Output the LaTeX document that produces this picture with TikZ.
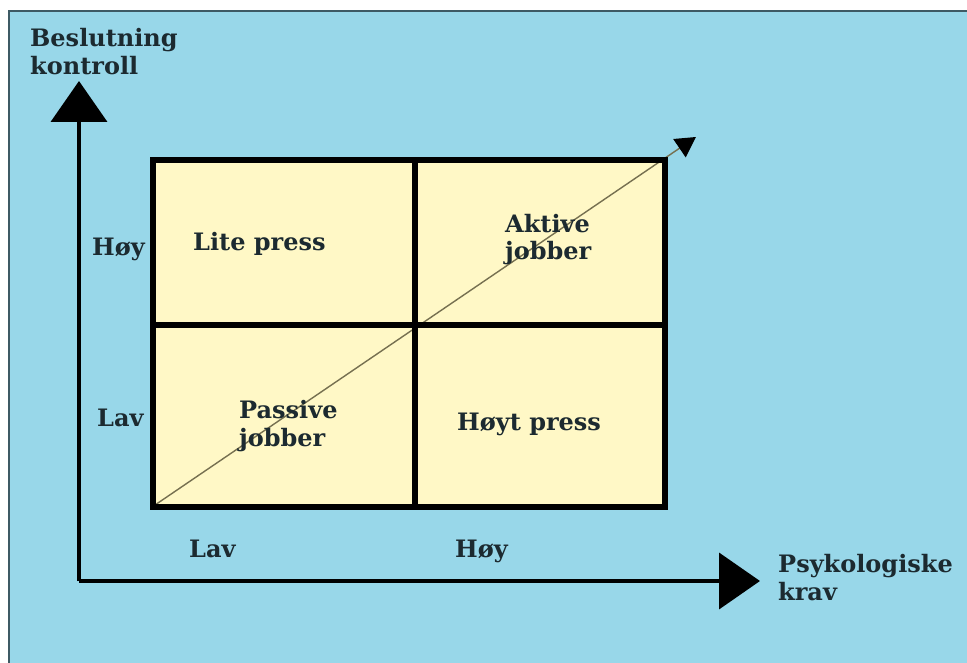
\documentclass[tikz,border=0pt]{standalone}
\usepackage{fontspec}
\setmainfont{DejaVu Serif}
\usetikzlibrary{arrows.meta}

\definecolor{panelblue}{HTML}{98D7E9}
\definecolor{panelrim}{HTML}{3E5A64}
\definecolor{cellyellow}{HTML}{FFF8C6}
\definecolor{inkdark}{HTML}{1C2A30}
\definecolor{diagline}{HTML}{767050}

\begin{document}
\begin{tikzpicture}[x=1pt,y=-1pt,
  lbl/.style={font=\bfseries\fontsize{24}{28}\selectfont, text=inkdark,
    inner sep=0pt, align=left, anchor=base west},
  axisline/.style={line width=4pt, black,
    -{Triangle[width=56pt,length=41pt]}},
  gridline/.style={line width=6pt, black},
]
\useasboundingbox (0,0) rectangle (967,663);
\fill[white] (0,0) rectangle (967,663);
\draw[fill=panelblue, draw=panelrim, line width=2pt] (9,11) rectangle (980,680);

% four quadrants of the model
\fill[cellyellow] (153,160) rectangle (665,507);

% named points of the frame
\coordinate (origin) at (79,581);
\coordinate (ytip) at (79,81);
\coordinate (xtip) at (760,581);
\coordinate (dstart) at (155,505);
\coordinate (dend) at (696,137);

% diagonal from passive to active
\draw[line width=1.4pt, diagline, -{Triangle[width=22pt,length=20pt,fill=black,color=black]}]
  (dstart) -- (dend);

% grid
\draw[gridline] (153,160) rectangle (665,507);
\draw[gridline] (415,160) -- (415,507);
\draw[gridline] (153,325) -- (665,325);

% axes
\draw[axisline] (origin) -- (ytip);
\draw[axisline] (origin) -- (xtip);

% axis titles (base anchor sits on the last line)
\node[lbl] (ytitle) at (30,75) {Beslutning\\kontroll};
\node[lbl] (xtitle) at (778,600) {Psykologiske\\krav};

% scale labels
\node[lbl] (yhigh) at (92,256) {Høy};
\node[lbl] (ylow) at (97,426) {Lav};
\node[lbl] (xlow) at (189,557) {Lav};
\node[lbl] (xhigh) at (455,557) {Høy};

% quadrant labels
\node[lbl] (q1) at (193,251) {Lite press};
\node[lbl] (q2) at (505,260) {Aktive\\jobber};
\node[lbl] (q3) at (239,446) {Passive\\jobber};
\node[lbl] (q4) at (457,430) {Høyt press};
\end{tikzpicture}
\end{document}
